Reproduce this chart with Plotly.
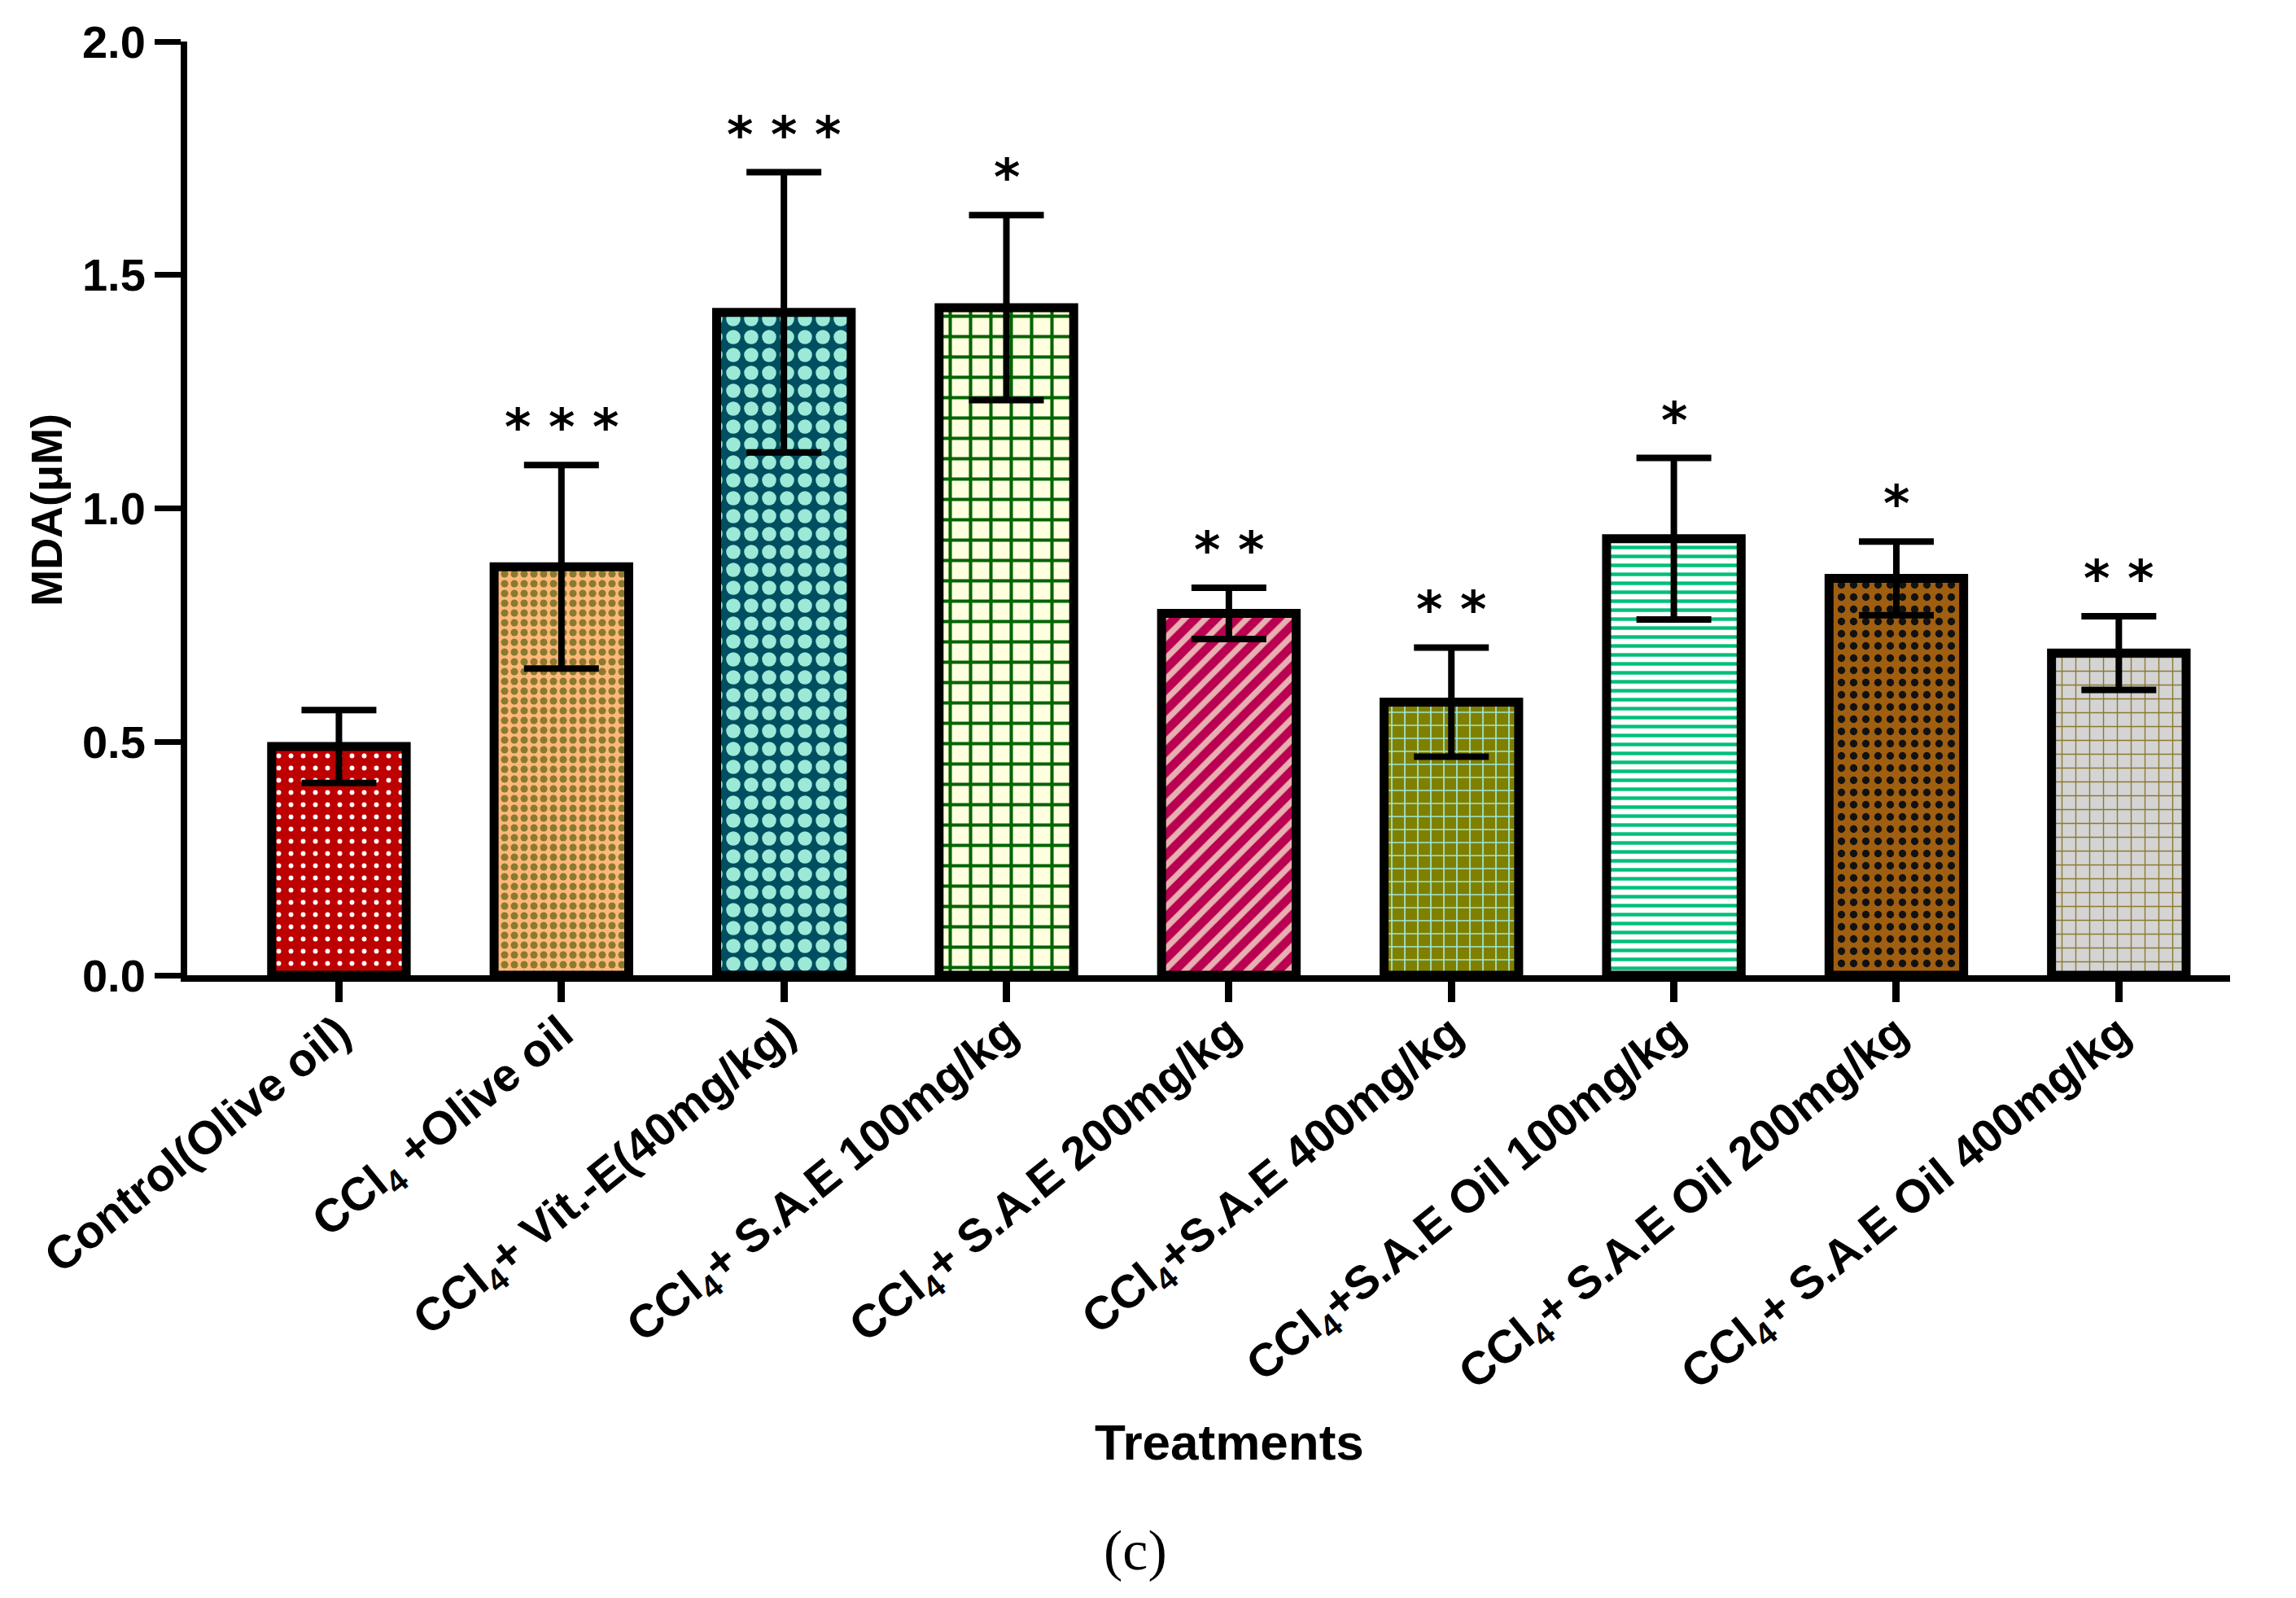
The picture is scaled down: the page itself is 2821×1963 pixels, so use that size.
import plotly.graph_objects as go

# categorias (eixo x)
tratamentos = [
    "Control(Olive oil)",
    "CCl<sub>4</sub> +Olive oil",
    "CCl<sub>4</sub>+ Vit.-E(40mg/kg)",
    "CCl<sub>4</sub>+ S.A.E 100mg/kg",
    "CCl<sub>4</sub>+ S.A.E 200mg/kg",
    "CCl<sub>4</sub>+S.A.E 400mg/kg",
    "CCl<sub>4</sub>+S.A.E Oil 100mg/kg",
    "CCl<sub>4</sub>+ S.A.E Oil 200mg/kg",
    "CCl<sub>4</sub>+ S.A.E Oil 400mg/kg",
]

# MDA (uM): media e desvio
mda_media = [0.49, 0.875, 1.42, 1.43, 0.775, 0.585, 0.935, 0.85, 0.69]
mda_sd = [0.078, 0.218, 0.30, 0.198, 0.055, 0.117, 0.173, 0.079, 0.079]

# significancia
signif = ["", "* * *", "* * *", "*", "* *", "* *", "*", "*", "* *"]

# cores e padroes de cada barra
cor_fundo = ["#BD0000", "#FFB878", "#004F60", "#FFFFE0", "#BA0050",
             "#808000", "#FFFFFF", "#A05F10", "#D4D4D4"]
cor_padrao = ["#FFFFFF", "#8A7A30", "#9BE9D6", "#006400", "#E8B0B0",
              "#A0E8D8", "#00BF78", "#111111", "#8B7A30"]
forma = [".", ".", ".", "+", "/", "+", "-", ".", "+"]
tamanho = [15, 12, 22, 25, 18, 16, 11, 15, 17]
solidez = [0.12, 0.45, 0.5, 0.3, 0.4, 0.2, 0.4, 0.3, 0.16]

fig = go.Figure()

# uma trace por barra (cada uma com o seu padrao)
for i, trat in enumerate(tratamentos):
    fig.add_trace(go.Bar(
        x=[trat],
        y=[mda_media[i]],
        width=0.605,
        marker=dict(
            color=cor_fundo[i],
            line=dict(color="black", width=11),
            pattern=dict(
                shape=forma[i],
                bgcolor=cor_fundo[i],
                fgcolor=cor_padrao[i],
                size=tamanho[i],
                solidity=solidez[i],
                fgopacity=1,
            ),
        ),
        error_y=dict(type="data", array=[mda_sd[i]], visible=True,
                     color="black", thickness=8, width=46),
        showlegend=False,
    ))

# asteriscos acima das barras de erro
for trat, m, s, txt in zip(tratamentos, mda_media, mda_sd, signif):
    if txt:
        fig.add_annotation(
            x=trat, y=m + s, text=txt, showarrow=False,
            yanchor="bottom", yshift=8,
            font=dict(family="DejaVu Sans", size=62, color="black", weight="bold"),
        )

# titulos dos eixos e legenda da figura
fig.add_annotation(
    x=0.510, y=-0.500, xref="paper", yref="paper", text="Treatments",
    showarrow=False, xanchor="center", yanchor="middle",
    font=dict(family="Liberation Sans", size=62, color="black", weight="bold"),
)
fig.add_annotation(
    x=-0.0689, y=0.498, xref="paper", yref="paper", text="MDA(μM)",
    showarrow=False, textangle=-90, xanchor="center", yanchor="middle",
    font=dict(family="Liberation Sans", size=54, color="black", weight="bold"),
)
fig.add_annotation(
    x=0.464, y=-0.616, xref="paper", yref="paper", text="(c)",
    showarrow=False, xanchor="center", yanchor="middle",
    font=dict(family="Liberation Serif", size=70, color="black"),
)

fig.update_layout(
    width=2805,
    height=1947,
    margin=dict(l=222, r=73, t=37, b=757),
    plot_bgcolor="white",
    paper_bgcolor="white",
    barmode="overlay",
)

fig.update_xaxes(
    range=[-0.682, 8.50],
    showline=True, linecolor="black", linewidth=8,
    ticks="outside", ticklen=25, tickwidth=9, tickcolor="black",
    tickangle=-39, ticklabelstandoff=-18,
    tickfont=dict(family="Liberation Sans", size=57, color="black", weight="bold"),
    showgrid=False, zeroline=False,
)

fig.update_yaxes(
    range=[0, 2.0],
    tickvals=[0, 0.5, 1.0, 1.5, 2.0],
    tickformat=".1f",
    showline=True, linecolor="black", linewidth=8,
    ticks="outside", ticklen=32, tickwidth=7, tickcolor="black",
    tickfont=dict(family="Liberation Sans", size=56, color="black", weight="bold"),
    showgrid=False, zeroline=False,
)

fig.write_html("out.html")
